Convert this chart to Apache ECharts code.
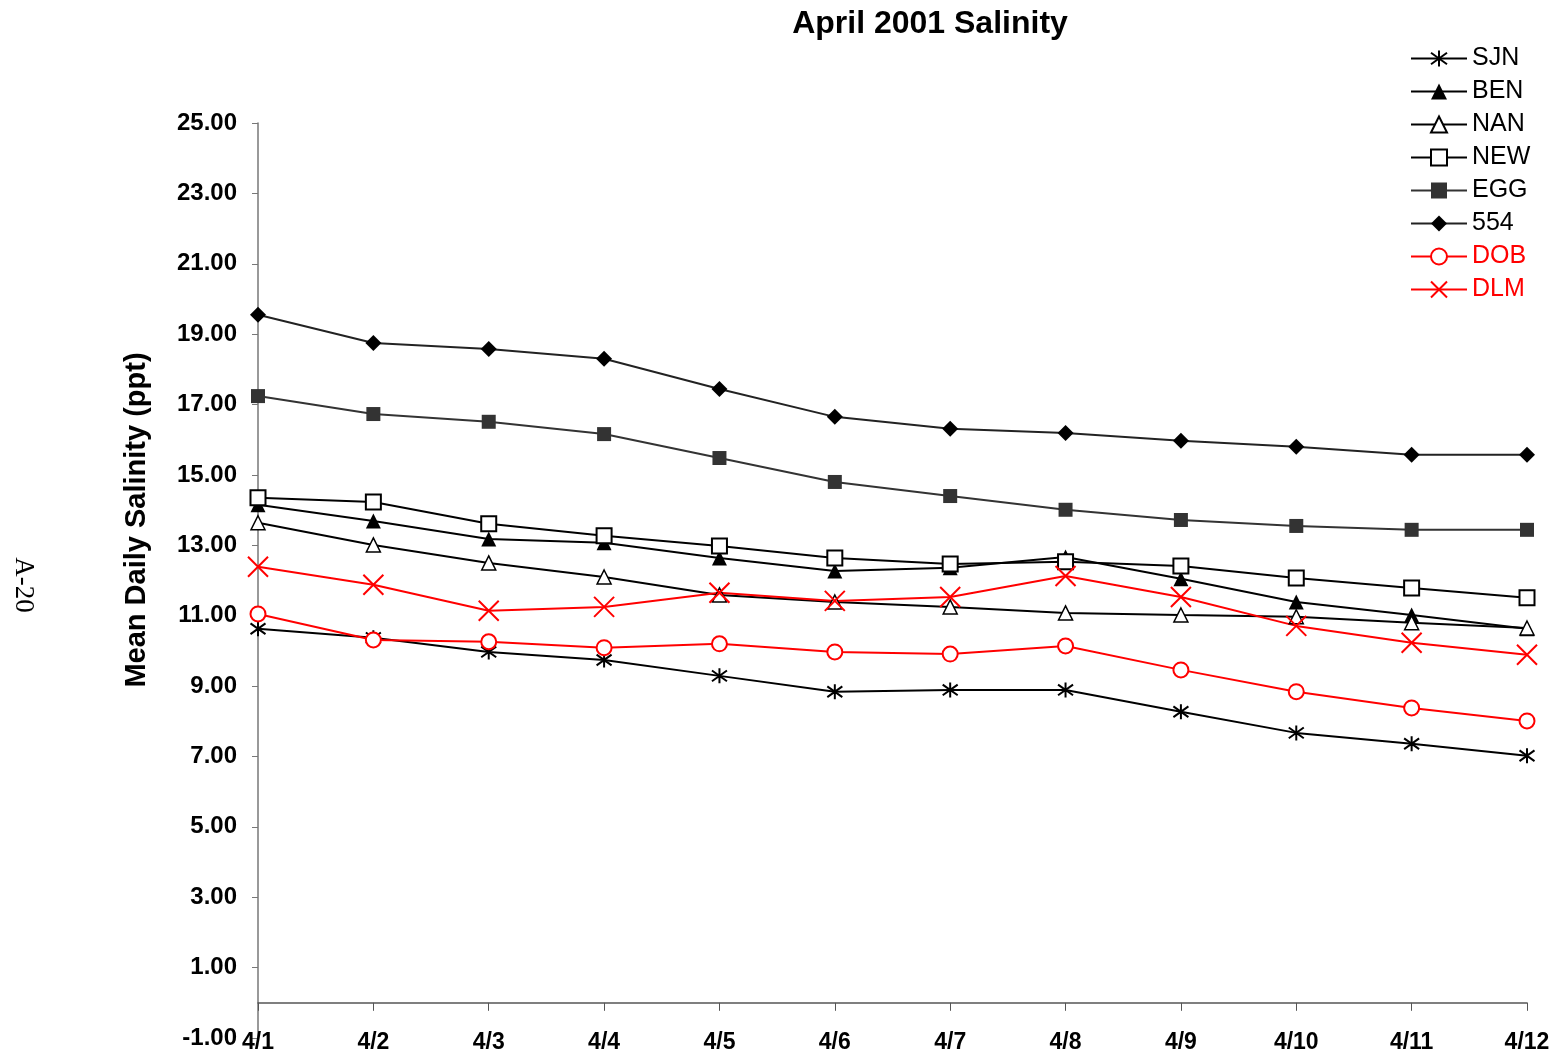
<!DOCTYPE html>
<html>
<head>
<meta charset="utf-8">
<title>April 2001 Salinity</title>
<script src="https://cdn.jsdelivr.net/npm/echarts@6/dist/echarts.min.js"></script>
<style>
  html, body { margin: 0; padding: 0; background: #fff; }
  #chart { width: 1557px; height: 1056px; }
</style>
</head>
<body>
<div id="chart"></div>
<script>
  // dates along the x axis
  const days = ['4/1', '4/2', '4/3', '4/4', '4/5', '4/6', '4/7', '4/8', '4/9', '4/10', '4/11', '4/12']

  // mean daily salinity (ppt) per station
  const sjn = [10.63, 10.37, 9.97, 9.74, 9.29, 8.84, 8.89, 8.89, 8.27, 7.67, 7.36, 7.02]
  const ben = [14.15, 13.69, 13.18, 13.07, 12.64, 12.27, 12.36, 12.67, 12.05, 11.39, 11.02, 10.63]
  const nan = [13.64, 13.01, 12.50, 12.10, 11.59, 11.39, 11.25, 11.08, 11.02, 10.97, 10.80, 10.65]
  const nnew = [14.35, 14.23, 13.61, 13.27, 12.98, 12.64, 12.47, 12.53, 12.41, 12.07, 11.79, 11.51]
  const egg = [17.24, 16.73, 16.51, 16.16, 15.48, 14.80, 14.40, 14.01, 13.72, 13.55, 13.44, 13.44]
  const s554 = [19.55, 18.75, 18.58, 18.30, 17.44, 16.65, 16.31, 16.19, 15.97, 15.80, 15.57, 15.57]
  const dob = [11.05, 10.31, 10.26, 10.09, 10.20, 9.97, 9.91, 10.14, 9.46, 8.84, 8.38, 8.01]
  const dlm = [12.39, 11.88, 11.14, 11.25, 11.65, 11.42, 11.53, 12.13, 11.53, 10.71, 10.23, 9.89]

  const asterisk = 'path://M-5,-5L5,5M-5,5L5,-5M0,-7L0,7'
  const cross = 'path://M-5,-5L5,5M-5,5L5,-5'

  function line(name, data, color, symbol, size, itemStyle) {
    return {
      name: name,
      type: 'line',
      data: data,
      symbol: symbol,
      symbolSize: size,
      showAllSymbol: true,
      lineStyle: {color: color, width: 2},
      itemStyle: itemStyle,
      emphasis: {disabled: true}
    }
  }

  let chart = echarts.init(document.getElementById('chart'))
  chart.setOption({
    animation: false,
    textStyle: {fontFamily: 'Liberation Sans, Arial, sans-serif'},
    title: {
      text: 'April 2001 Salinity',
      left: 925,
      top: 3,
      textAlign: 'center',
      textStyle: {fontSize: 32, fontWeight: 'bold', color: '#000'}
    },
    legend: {
      orient: 'vertical',
      left: 1405,
      top: 41,
      itemWidth: 56,
      itemHeight: 20,
      itemGap: 8,
      textStyle: {fontSize: 25, color: '#000'},
      data: [
        'SJN', 'BEN', 'NAN', 'NEW', 'EGG', '554',
        {name: 'DOB', textStyle: {color: '#ff0000'}},
        {name: 'DLM', textStyle: {color: '#ff0000'}}
      ]
    },
    graphic: [
      {
        type: 'text',
        x: 137, y: 520,
        rotation: Math.PI / 2,
        style: {
          text: 'Mean Daily Salinity (ppt)',
          font: 'bold 29px Liberation Sans, Arial, sans-serif',
          fill: '#000',
          align: 'center',
          verticalAlign: 'middle'
        }
      },
      {
        type: 'text',
        x: 23, y: 585,
        rotation: -Math.PI / 2,
        style: {
          text: 'A-20',
          font: '27px Liberation Serif, Times New Roman, serif',
          fill: '#000',
          align: 'center',
          verticalAlign: 'middle'
        }
      }
    ],
    grid: {left: 258, right: 30, top: 123, bottom: 18, containLabel: false, outerBoundsMode: 'none'},
    xAxis: {
      type: 'category',
      data: days,
      boundaryGap: false,
      axisLine: {onZero: true, lineStyle: {color: '#555', width: 1.5}},
      axisTick: {show: true, length: 8, alignWithLabel: true, lineStyle: {color: '#555'}},
      axisLabel: {margin: -7, fontSize: 23, fontWeight: 'bold', color: '#000'},
      splitLine: {show: false}
    },
    yAxis: {
      type: 'value',
      min: -1,
      max: 25,
      interval: 2,
      axisLine: {show: true, lineStyle: {color: '#777', width: 1.5}},
      axisTick: {show: true, length: 6, lineStyle: {color: '#777'}},
      axisLabel: {
        margin: 21,
        fontSize: 24,
        fontWeight: 'bold',
        color: '#000',
        formatter: function (v) {
          return v.toFixed(2)
        }
      },
      splitLine: {show: false}
    },
    series: [
      line('SJN', sjn, '#000', asterisk, 15, {color: '#000', borderColor: '#000', borderWidth: 2}),
      line('BEN', ben, '#000', 'triangle', 15, {color: '#000'}),
      line('NAN', nan, '#000', 'triangle', 14, {color: '#fff', borderColor: '#000', borderWidth: 1.5}),
      line('NEW', nnew, '#000', 'rect', 15, {color: '#fff', borderColor: '#000', borderWidth: 2}),
      line('EGG', egg, '#333', 'rect', 14, {color: '#333'}),
      line('554', s554, '#222', 'diamond', 16, {color: '#000'}),
      line('DOB', dob, '#ff0000', 'circle', 15, {color: '#fff', borderColor: '#ff0000', borderWidth: 2}),
      line('DLM', dlm, '#ff0000', cross, 20, {color: '#ff0000', borderColor: '#ff0000', borderWidth: 2})
    ]
  })
</script>
</body>
</html>
